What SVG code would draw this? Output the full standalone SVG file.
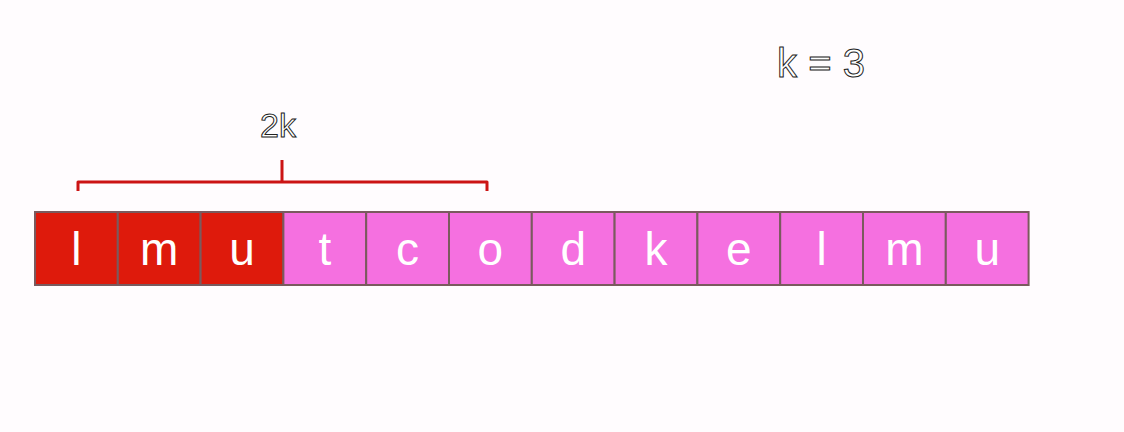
<svg xmlns="http://www.w3.org/2000/svg" width="1124" height="432" viewBox="0 0 1124 432">
<style>
.cell rect{stroke:#7a5a5e;stroke-width:2}
.red rect{fill:#de1a0c}
.pink rect{fill:#f570e0}
.cell text{font-family:"Liberation Sans",Arial,sans-serif;font-size:46px;fill:#ffffff;text-anchor:middle}
.outline{font-family:"Liberation Sans",Arial,sans-serif;fill:#ffffff;stroke:#222222;stroke-width:1;text-anchor:middle}
.brace{fill:none;stroke:#cc1414;stroke-width:3;stroke-linejoin:round}
</style>
<rect width="1124" height="432" fill="#fffcfe"/>
<text class="outline" x="821" y="77" font-size="40">k = 3</text>
<text class="outline" x="278" y="137" font-size="34">2k</text>
<g id="connectors">
<path class="brace" d="M78 191 V182 H487 V191 M282 182 V160"/>
</g>
<g id="c0" class="cell red"><rect x="35" y="212" width="82.8" height="73"/><text x="76.4" y="265">l</text></g>
<g id="c1" class="cell red"><rect x="117.8" y="212" width="82.8" height="73"/><text x="159.2" y="265">m</text></g>
<g id="c2" class="cell red"><rect x="200.6" y="212" width="82.8" height="73"/><text x="242" y="265">u</text></g>
<g id="c3" class="cell pink"><rect x="283.4" y="212" width="82.8" height="73"/><text x="324.8" y="265">t</text></g>
<g id="c4" class="cell pink"><rect x="366.2" y="212" width="82.8" height="73"/><text x="407.6" y="265">c</text></g>
<g id="c5" class="cell pink"><rect x="449" y="212" width="82.8" height="73"/><text x="490.4" y="265">o</text></g>
<g id="c6" class="cell pink"><rect x="531.8" y="212" width="82.8" height="73"/><text x="573.2" y="265">d</text></g>
<g id="c7" class="cell pink"><rect x="614.6" y="212" width="82.8" height="73"/><text x="656" y="265">k</text></g>
<g id="c8" class="cell pink"><rect x="697.4" y="212" width="82.8" height="73"/><text x="738.8" y="265">e</text></g>
<g id="c9" class="cell pink"><rect x="780.2" y="212" width="82.8" height="73"/><text x="821.6" y="265">l</text></g>
<g id="c10" class="cell pink"><rect x="863" y="212" width="82.8" height="73"/><text x="904.4" y="265">m</text></g>
<g id="c11" class="cell pink"><rect x="945.8" y="212" width="82.8" height="73"/><text x="987.2" y="265">u</text></g>
</svg>
